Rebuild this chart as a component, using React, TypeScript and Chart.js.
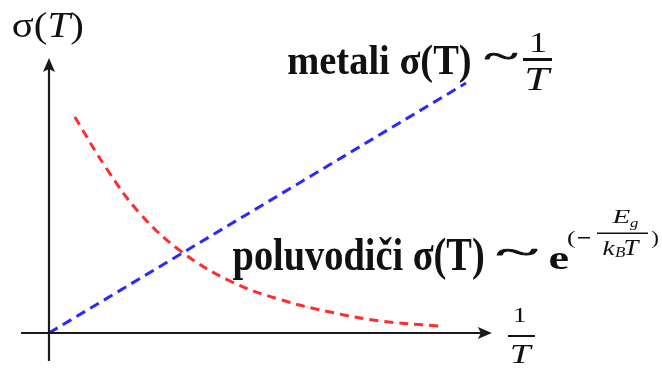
import React, { useEffect, useRef } from "react";
import { Chart, registerables } from "chart.js";

Chart.register(...registerables);

// Data (x = 1/T in arbitrary units, y = σ(T) in arbitrary units)
const metalX = [0, 1];
const metalY = [0, 1];
const semiX = [0.062, 0.139, 0.218, 0.314, 0.434, 0.554, 0.674, 0.794, 0.933];
const semiY = [0.864, 0.655, 0.478, 0.33, 0.208, 0.134, 0.084, 0.048, 0.028];
const axisXExtent = [-0.067, 1.062];
const axisYExtent = [-0.112, 1.1];

const SERIF = '"Liberation Serif", "Times New Roman", serif';

type Run = { text: string; font: string };
type Box = [number, number, number, number];

function drawRuns(ctx: CanvasRenderingContext2D, runs: Run[], box: Box, strokeW = 0) {
  let cursor = 0;
  let inkL = Infinity;
  let inkR = -Infinity;
  let top = 0;
  let bottom = 0;
  const pos: number[] = [];
  for (const r of runs) {
    ctx.font = r.font;
    const m = ctx.measureText(r.text);
    pos.push(cursor);
    inkL = Math.min(inkL, cursor - m.actualBoundingBoxLeft);
    inkR = Math.max(inkR, cursor + m.actualBoundingBoxRight);
    top = Math.max(top, m.actualBoundingBoxAscent);
    bottom = Math.max(bottom, m.actualBoundingBoxDescent);
    cursor += m.width;
  }
  const [x0, y0, x1, y1] = box;
  const sx = (x1 - x0) / (inkR - inkL);
  const sy = (y1 - y0) / (top + bottom);
  ctx.save();
  ctx.translate(x0 - inkL * sx, y0 + top * sy);
  ctx.scale(sx, sy);
  ctx.textBaseline = "alphabetic";
  ctx.textAlign = "left";
  runs.forEach((r, i) => {
    ctx.font = r.font;
    ctx.fillText(r.text, pos[i], 0);
    if (strokeW > 0) {
      ctx.lineWidth = strokeW;
      ctx.strokeStyle = ctx.fillStyle as string;
      ctx.lineJoin = "round";
      ctx.strokeText(r.text, pos[i], 0);
    }
  });
  ctx.restore();
}

const B = (s: number) => `bold ${s}px ${SERIF}`;
const R = (s: number) => `${s}px ${SERIF}`;
const I = (s: number) => `italic ${s}px ${SERIF}`;

const overlayPlugin = {
  id: "overlay",
  afterDatasetsDraw(chart: any) {
    const ctx: CanvasRenderingContext2D = chart.ctx;
    const xs = chart.scales.x;
    const ys = chart.scales.y;
    const ox = xs.getPixelForValue(0);
    const oy = ys.getPixelForValue(0);
    const xl = xs.getPixelForValue(axisXExtent[0]);
    const xr = xs.getPixelForValue(axisXExtent[1]);
    const yb = ys.getPixelForValue(axisYExtent[0]);
    const yt = ys.getPixelForValue(axisYExtent[1]);

    ctx.save();
    ctx.strokeStyle = "#1a1a1a";
    ctx.fillStyle = "#1a1a1a";
    ctx.lineWidth = 2.2;
    ctx.beginPath();
    ctx.moveTo(ox, yb);
    ctx.lineTo(ox, yt + 8);
    ctx.moveTo(xl, oy);
    ctx.lineTo(xr - 8, oy);
    ctx.stroke();
    // arrow heads
    ctx.beginPath();
    ctx.moveTo(ox, yt);
    ctx.lineTo(ox - 6, yt + 14);
    ctx.lineTo(ox, yt + 11);
    ctx.lineTo(ox + 6, yt + 14);
    ctx.closePath();
    ctx.fill();
    ctx.beginPath();
    ctx.moveTo(xr, oy);
    ctx.lineTo(xr - 14, oy - 6);
    ctx.lineTo(xr - 11, oy);
    ctx.lineTo(xr - 14, oy + 6);
    ctx.closePath();
    ctx.fill();

    ctx.fillStyle = "#111";
    // y-axis label σ(T)
    drawRuns(ctx, [
      { text: "σ(", font: R(100) },
      { text: "T", font: I(100) },
      { text: ")", font: R(100) },
    ], [13, 12, 82, 45]);

    // x-axis label 1/T
    drawRuns(ctx, [{ text: "1", font: R(100) }], [515, 308, 525, 322]);
    ctx.fillRect(508, 335, 27, 2);
    drawRuns(ctx, [{ text: "T", font: I(100) }], [512, 345, 533, 363]);

    // metals label
    drawRuns(ctx, [{ text: "metali σ(T)", font: B(100) }], [288, 45, 470, 83]);
    drawRuns(ctx, [{ text: "~", font: R(100) }], [485, 53, 517, 67], 3);
    drawRuns(ctx, [{ text: "1", font: R(100) }], [532, 33, 545, 52]);
    ctx.fillRect(523, 58, 29, 3);
    drawRuns(ctx, [{ text: "T", font: I(100) }], [527, 68, 552, 90]);

    // semiconductors label
    drawRuns(ctx, [{ text: "poluvodiči σ(T)", font: B(100) }], [233, 238, 483, 280]);
    drawRuns(ctx, [{ text: "~", font: R(100) }], [497, 249, 537, 263], 3);
    drawRuns(ctx, [{ text: "e", font: B(100) }], [550, 253, 568, 269]);
    drawRuns(ctx, [{ text: "(", font: R(100) }], [568, 230, 575, 248]);
    ctx.fillRect(578, 237, 12, 1.5);
    ctx.fillRect(597, 232.5, 51, 1.5);
    drawRuns(ctx, [{ text: "E", font: I(100) }], [612, 210, 630, 223]);
    drawRuns(ctx, [{ text: "g", font: I(100) }], [630, 221, 638, 230]);
    drawRuns(ctx, [{ text: "k", font: I(100) }], [603, 240, 615, 255]);
    drawRuns(ctx, [{ text: "B", font: I(100) }], [615, 248, 625, 257]);
    drawRuns(ctx, [{ text: "T", font: I(100) }], [625, 240, 640, 255]);
    drawRuns(ctx, [{ text: ")", font: R(100) }], [652, 230, 658, 248]);
    ctx.restore();
  },
};

export default function App() {
  const ref = useRef<HTMLCanvasElement | null>(null);
  useEffect(() => {
    if (!ref.current) return;
    const chart = new Chart(ref.current, {
      type: "line",
      data: {
        datasets: [
          {
            label: "metali",
            data: metalX.map((x, i) => ({ x, y: metalY[i] })),
            borderColor: "rgb(40,40,255)",
            borderWidth: 3,
            borderDash: [10, 6],
            pointRadius: 0,
            fill: false,
          },
          {
            label: "poluvodiči",
            data: semiX.map((x, i) => ({ x, y: semiY[i] })),
            borderColor: "rgb(255,45,45)",
            borderWidth: 3,
            borderDash: [9, 6],
            pointRadius: 0,
            tension: 0.4,
            fill: false,
          },
        ],
      },
      options: {
        animation: false,
        responsive: true,
        maintainAspectRatio: false,
        layout: { padding: 0 },
        plugins: { legend: { display: false }, tooltip: { enabled: false } },
        scales: {
          x: { type: "linear", min: -0.1175, max: 1.47, display: false },
          y: { type: "linear", min: -0.144, max: 1.332, display: false },
        },
      },
      plugins: [overlayPlugin],
    });
    return () => chart.destroy();
  }, []);
  return (
    <div style={{ position: "absolute", left: 0, top: 0, width: 662, height: 369, background: "#fff" }}>
      <canvas ref={ref} />
    </div>
  );
}
